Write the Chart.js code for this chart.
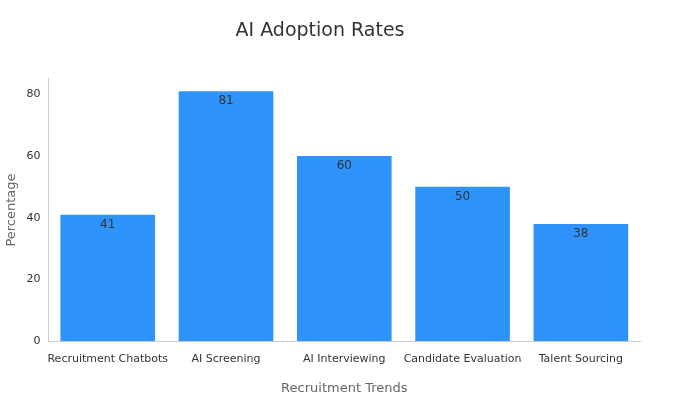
<!DOCTYPE html>
<html>
<head>
<meta charset="utf-8">
<script src="https://cdn.jsdelivr.net/npm/chart.js@4"></script>
<style>
  html, body { margin: 0; padding: 0; background: #fff; }
  #wrap { width: 700px; height: 400px; }
</style>
</head>
<body>
<div id="wrap"><canvas id="chart"></canvas></div>
<script>
const categories = ['Recruitment Chatbots', 'AI Screening', 'AI Interviewing', 'Candidate Evaluation', 'Talent Sourcing'];
const adoption = [41, 81, 60, 50, 38];
const yTicks = [0, 20, 40, 60, 80];

// labels drawn just inside the top of each bar
const barLabels = {
    id: 'barLabels',
    afterDatasetsDraw(chart) {
        const ctx = chart.ctx;
        const meta = chart.getDatasetMeta(0);
        ctx.save();
        ctx.font = '12px "DejaVu Sans"';
        ctx.fillStyle = '#333333';
        ctx.textAlign = 'center';
        ctx.textBaseline = 'top';
        meta.data.forEach((bar, i) => {
            ctx.fillText(String(adoption[i]), bar.x, bar.y + 4);
        });
        ctx.restore();
    },
};

new Chart(document.getElementById('chart').getContext('2d'), {
    type: 'bar',
    data: {
        labels: categories,
        datasets: [{
            data: adoption,
            backgroundColor: '#2E93FA',
            barPercentage: 0.8,
            categoryPercentage: 1,
        }],
    },
    options: {
        responsive: true,
        maintainAspectRatio: false,
        animation: false,
        layout: { padding: { left: 0, right: 60, top: 10, bottom: 0 } },
        plugins: {
            legend: { display: false },
            tooltip: { enabled: false },
            title: {
                display: true,
                text: 'AI Adoption Rates',
                color: '#333333',
                font: { family: 'DejaVu Sans', size: 19, weight: 'normal' },
                padding: { top: 10, bottom: 36 },
            },
        },
        scales: {
            x: {
                grid: { display: false, drawTicks: true },
                border: { color: '#cccccc' },
                ticks: { color: '#333333', font: { family: 'DejaVu Sans', size: 11 }, maxRotation: 0, autoSkip: false },
                title: { display: true, text: 'Recruitment Trends', color: '#666666', font: { family: 'DejaVu Sans', size: 13 }, padding: { top: 12 } },
            },
            y: {
                min: 0,
                max: 85,
                afterBuildTicks: (axis) => { axis.ticks = yTicks.map(v => ({ value: v })); },
                grid: { display: false, drawOnChartArea: false, drawTicks: true, tickLength: 5, color: '#cccccc' },
                border: { color: '#cccccc' },
                ticks: { color: '#333333', font: { family: 'DejaVu Sans', size: 11 } },
                title: { display: true, text: 'Percentage', color: '#666666', font: { family: 'DejaVu Sans', size: 13 } },
            },
        },
    },
    plugins: [barLabels],
});
</script>
</body>
</html>
